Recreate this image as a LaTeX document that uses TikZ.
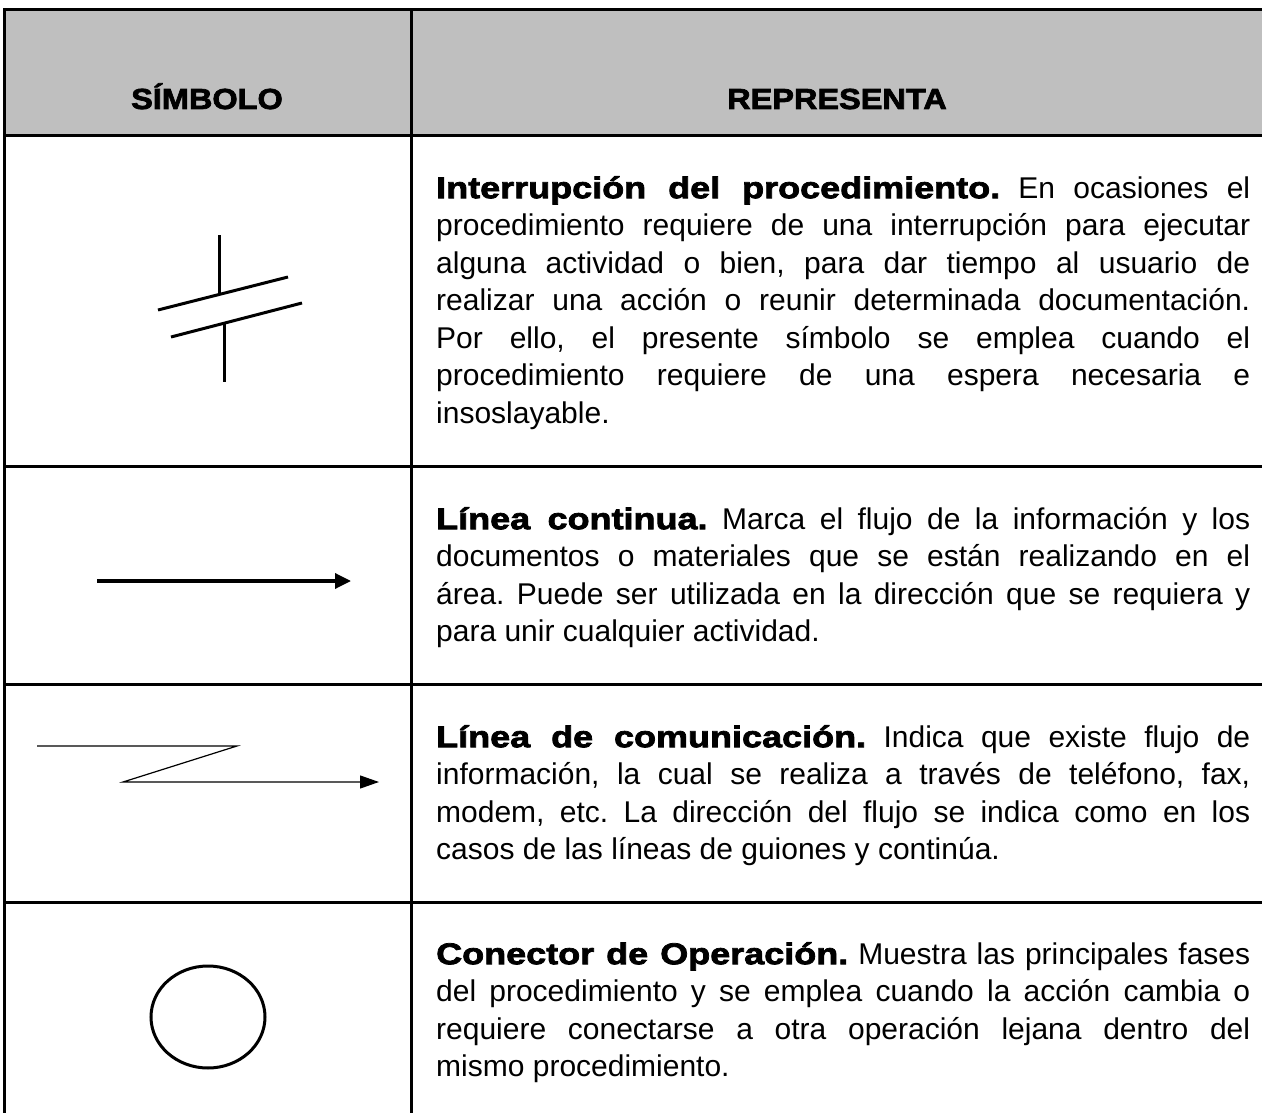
\documentclass[tikz,border=0pt]{standalone}
\usepackage{fontspec}
\setmainfont{Liberation Sans}
\newfontfamily\heavy{Liberation Sans Bold}[FakeStretch=1.12,FakeBold=2.5]
\newfontfamily\heavyb{Liberation Sans Bold}[FakeStretch=1.2,FakeBold=2.5]
\usetikzlibrary{arrows.meta,shapes.geometric}
\definecolor{headgrey}{RGB}{191,191,191}
\tikzset{
  rule/.style={line width=3pt, line cap=rect},
  sym/.style={line width=3pt},
  thinsym/.style={line width=1.2pt},
  headtext/.style={font=\heavy\fontsize{29}{35}\selectfont, inner sep=0pt, anchor=base},
  bodytext/.style={anchor=north west, text width=814pt, align=justify, inner sep=0pt,
                   font=\fontsize{30}{37.5}\selectfont\frenchspacing},
}
\newcommand{\hd}[1]{{\heavyb #1}}
\begin{document}
\begin{tikzpicture}[x=1pt,y=-1pt]
\useasboundingbox (0,0) rectangle (1262,1113);
% header band
\fill[headgrey] (4,10) rectangle (1262,136);
% table rules
\draw[rule] (1262,10) -- (4,10) -- (4,1113);
\draw[rule] (411,10) -- (411,1113);
\foreach \yy in {136,466,684,902}{\draw[rule] (4,\yy) -- (1262,\yy);}
% header texts
\node[headtext] (h1) at (207,109) {SÍMBOLO};
\node[headtext] (h2) at (837,109) {REPRESENTA};
% row 1 symbol: interruption
\coordinate (a1) at (219,235); \coordinate (a2) at (219,294);
\coordinate (b1) at (158,310); \coordinate (b2) at (288,277);
\coordinate (c1) at (171,337); \coordinate (c2) at (302,303);
\coordinate (d1) at (224,323); \coordinate (d2) at (224,382);
\draw[sym] (a1) -- (a2);
\draw[sym] (b1) -- (b2);
\draw[sym] (c1) -- (c2);
\draw[sym] (d1) -- (d2);
% row 2 symbol: solid line
\coordinate (e1) at (97,581); \coordinate (e2) at (351,581);
\draw[sym, line width=3.4pt, -{Triangle[length=16pt,width=15pt]}] (e1) -- (e2);
% row 3 symbol: communication line
\coordinate (f1) at (37,746); \coordinate (f2) at (237,746);
\coordinate (f3) at (123,782); \coordinate (f4) at (379,782);
\draw[thinsym, -{Triangle[length=19pt,width=13pt]}] (f1) -- (f2) -- (f3) -- (f4);
% row 4 symbol: connector
\node[draw, line width=3pt, ellipse, minimum width=114pt, minimum height=102pt, inner sep=0pt] (g) at (208,1017) {};
% texts
\node[bodytext] (t1) at (436,171.75) {\strut\hd{Interrupción del procedimiento.} En ocasiones el\linebreak
procedimiento requiere de una interrupción para ejecutar\linebreak
alguna actividad o bien, para dar tiempo al usuario de\linebreak
realizar una acción o reunir determinada documentación.\linebreak
Por ello, el presente símbolo se emplea cuando el\linebreak
procedimiento requiere de una espera necesaria e\linebreak
insoslayable.};
\node[bodytext] (t2) at (436,502.75) {\strut\hd{Línea continua.} Marca el flujo de la información y los\linebreak
documentos o materiales que se están realizando en el\linebreak
área. Puede ser utilizada en la dirección que se requiera y\linebreak
para unir cualquier actividad.};
\node[bodytext] (t3) at (436,720.75) {\strut\hd{Línea de comunicación.} Indica que existe flujo de\linebreak
información, la cual se realiza a través de teléfono, fax,\linebreak
modem, etc. La dirección del flujo se indica como en los\linebreak
casos de las líneas de guiones y continúa.};
\node[bodytext] (t4) at (436,937.75) {\strut\hd{Conector de Operación.} Muestra las principales fases\linebreak
del procedimiento y se emplea cuando la acción cambia o\linebreak
requiere conectarse a otra operación lejana dentro del\linebreak
mismo procedimiento.};
\end{tikzpicture}
\end{document}
